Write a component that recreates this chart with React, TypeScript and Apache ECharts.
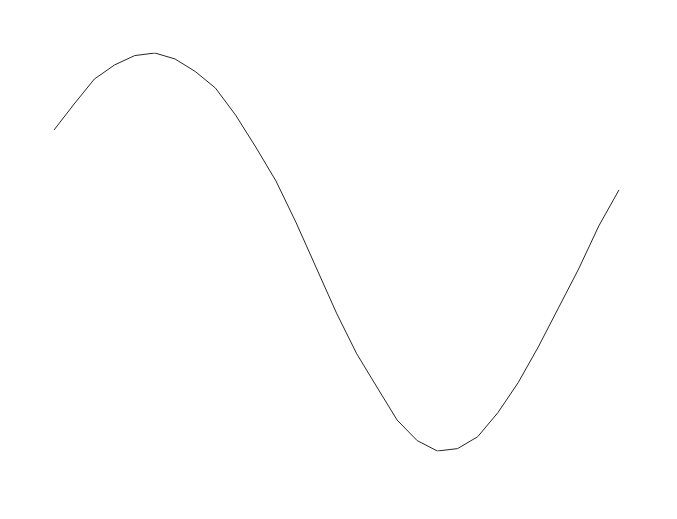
import React, { useEffect, useRef } from "react";
import * as echarts from "echarts";

const xValues = [0, 1, 2, 3, 4, 5, 6, 7, 8, 9, 10, 11, 12, 13, 14, 15, 16, 17, 18, 19, 20, 21, 22, 23, 24, 25, 26, 27, 28];
const yValues = [
  0.613, 0.744, 0.869, 0.94, 0.987, 1.0, 0.97, 0.907, 0.824, 0.688,
  0.527, 0.357, 0.147, -0.08, -0.307, -0.511, -0.678, -0.844, -0.948, -1.0,
  -0.988, -0.928, -0.807, -0.657, -0.477, -0.281, -0.085, 0.131, 0.312,
];

export default function App() {
  const ref = useRef<HTMLDivElement>(null);
  useEffect(() => {
    if (!ref.current) return;
    const chart = echarts.init(ref.current, null, { renderer: "svg" });
    chart.setOption({
      animation: false,
      backgroundColor: "#ffffff",
      grid: { left: 54, right: 58, top: 53, bottom: 68 },
      xAxis: {
        type: "value",
        min: 0,
        max: 28,
        show: false,
      },
      yAxis: {
        type: "value",
        min: -1,
        max: 1,
        show: false,
      },
      series: [
        {
          type: "line",
          data: xValues.map((x, i) => [x, yValues[i]]),
          showSymbol: false,
          symbol: "none",
          lineStyle: { color: "#262626", width: 1 },
          silent: true,
        },
      ],
    });
    return () => chart.dispose();
  }, []);
  return (
    <div
      ref={ref}
      style={{ position: "fixed", left: 0, top: 0, width: 677, height: 519, background: "#fff" }}
    />
  );
}
